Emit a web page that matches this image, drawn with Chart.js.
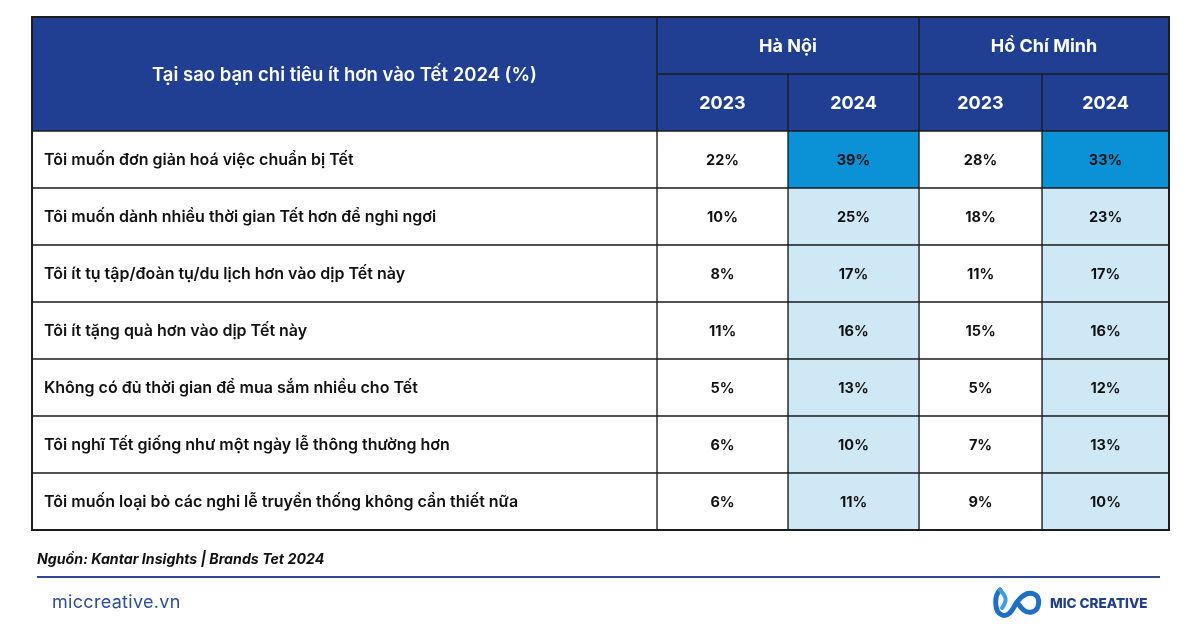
<!DOCTYPE html>
<html>
<head>
<meta charset="utf-8">
<script src="https://cdn.jsdelivr.net/npm/chart.js@4.4.1/dist/chart.umd.min.js"></script>
<style>
  body { margin: 0; background: #fff; font-family: Inter, "Noto Sans", sans-serif; }
  #wrap { position: relative; width: 1200px; height: 630px; }
  #src { position: absolute; left: 37px; top: 550px; font-size: 14.2px; font-weight: 700; font-style: italic; color: #111; }
  #rule { position: absolute; left: 37px; top: 576px; width: 1123px; height: 2px; background: #2d4b8e; }
  #site { position: absolute; left: 52px; top: 591px; font-size: 18px; color: #2c4d9c; letter-spacing: 0.3px; }
  #brand { position: absolute; left: 1050px; top: 595px; font-size: 13.5px; font-weight: 800; color: #233f8c; }
  #logo { position: absolute; left: 992px; top: 586px; }
</style>
</head>
<body>
<div id="wrap">
  <canvas id="mycanvas"></canvas>
  <div id="src">Nguồn: Kantar Insights | Brands Tet 2024</div>
  <div id="rule"></div>
  <div id="site">miccreative.vn</div>
  <svg id="logo" width="50" height="34" viewBox="0 0 50 34">
    <path d="M8 4 C2 10 2 26 10 29 C18 32 22 20 25 16 C28 12 34 5 42 8 C49 11 48 24 40 26 C32 28 28 20 25 16" fill="none" stroke="#1f6fc4" stroke-width="5" stroke-linecap="round"/>
    <path d="M8 4 C14 10 16 14 10 22" fill="none" stroke="#3aa0e0" stroke-width="4" stroke-linecap="round"/>
  </svg>
  <div id="brand">MIC CREATIVE</div>
</div>
<script>
var title = "Tại sao bạn chi tiêu ít hơn vào Tết 2024 (%)";
var cities = ["Hà Nội", "Hồ Chí Minh"];
var years = ["2023", "2024"];
var reasons = [
  "Tôi muốn đơn giản hoá việc chuẩn bị Tết",
  "Tôi muốn dành nhiều thời gian Tết hơn để nghỉ ngơi",
  "Tôi ít tụ tập/đoàn tụ/du lịch hơn vào dịp Tết này",
  "Tôi ít tặng quà hơn vào dịp Tết này",
  "Không có đủ thời gian để mua sắm nhiều cho Tết",
  "Tôi nghĩ Tết giống như một ngày lễ thông thường hơn",
  "Tôi muốn loại bỏ các nghi lễ truyền thống không cần thiết nữa"
];
var hn2023 = [22, 10, 8, 11, 5, 6, 6];
var hn2024 = [39, 25, 17, 16, 13, 10, 11];
var hcm2023 = [28, 18, 11, 15, 5, 7, 9];
var hcm2024 = [33, 23, 17, 16, 12, 13, 10];

// layout (pixels inside the table)
var edges = [0, 625, 756, 887, 1010, 1137];
var headBlue = "#213f92";
var lightBlue = "#cfe8f6";
var strongBlue = "#0a91d6";
var lineCol = "#1c1c1c";

var rowKeys = ["h1", "h2"].concat(reasons);
var valueCols = [hn2023, hn2024, hcm2023, hcm2024];

// column 0 : title + reasons
var datasets = [];
datasets.push({
  data: rowKeys.map(function(){ return [edges[0], edges[1]]; }),
  texts: [title, null].concat(reasons),
  backgroundColor: rowKeys.map(function(k, i){ return i < 2 ? headBlue : "#fff"; })
});
valueCols.forEach(function(vals, c){
  var first = (c % 2 === 0);
  var max = Math.max.apply(null, vals);
  var d = [first ? [edges[c + 1], edges[c + 3]] : null, [edges[c + 1], edges[c + 2]]];
  var t = [first ? cities[c / 2] : null, years[c % 2]];
  var bg = [headBlue, headBlue];
  vals.forEach(function(v){
    d.push([edges[c + 1], edges[c + 2]]);
    t.push(v + "%");
    bg.push(c % 2 === 1 ? (v === max ? strongBlue : lightBlue) : "#fff");
  });
  datasets.push({ data: d, texts: t, backgroundColor: bg });
});
datasets.forEach(function(ds, di){
  ds.grouped = false;
  ds.borderSkipped = false;
  ds.borderColor = lineCol;
  ds.barPercentage = 1;
  ds.categoryPercentage = 1;
  ds.borderWidth = function(ctx){
    if (di === 0 && ctx.dataIndex === 0) return {top: 1, left: 1, right: 1, bottom: 0};
    if (di === 0 && ctx.dataIndex === 1) return {top: 0, left: 1, right: 1, bottom: 1};
    return 1;
  };
});

var cellText = {
  id: "cellText",
  afterDatasetsDraw: function(chart){
    var ctx = chart.ctx;
    ctx.save();
    ctx.textBaseline = "middle";
    chart.data.datasets.forEach(function(ds, di){
      var meta = chart.getDatasetMeta(di);
      meta.data.forEach(function(el, i){
        var txt = ds.texts[i];
        if (!txt) return;
        var p = el.getProps(["x", "base", "y"], true);
        var y = p.y;
        if (i < 2) {
          ctx.fillStyle = "#fff";
          ctx.textAlign = "center";
          if (di === 0) {
            ctx.font = "600 18.5px Inter";
            y = (p.y + meta.data[1].getProps(["y"], true).y) / 2;
          } else {
            ctx.font = "700 18px Inter";
          }
          ctx.fillText(txt, (p.x + p.base) / 2, y + 1);
        } else if (di === 0) {
          ctx.fillStyle = "#111";
          ctx.font = "600 16px Inter";
          ctx.textAlign = "left";
          ctx.fillText(txt, p.base + 12, y + 1);
        } else {
          ctx.fillStyle = "#111";
          ctx.font = "700 14.5px Inter";
          ctx.textAlign = "center";
          ctx.fillText(txt, (p.x + p.base) / 2, y + 1);
        }
      });
    });
    var a = chart.chartArea;
    ctx.strokeStyle = lineCol;
    ctx.lineWidth = 2;
    ctx.strokeRect(a.left, a.top, a.right - a.left, a.bottom - a.top);
    ctx.restore();
  }
};

var ctx = document.getElementById("mycanvas");
var table = new Chart(ctx, {
  type: "bar",
  data: { labels: rowKeys, datasets: datasets },
  options: {
    indexAxis: "y",
    responsive: true,
    maintainAspectRatio: false,
    animation: false,
    layout: { padding: { left: 32, right: 31, top: 17, bottom: 100 } },
    plugins: { legend: { display: false }, tooltip: { enabled: false } },
    scales: {
      x: { type: "linear", min: edges[0], max: edges[edges.length - 1], display: false },
      y: { type: "category", display: false, offset: true }
    }
  },
  plugins: [cellText]
});
</script>
</body>
</html>
